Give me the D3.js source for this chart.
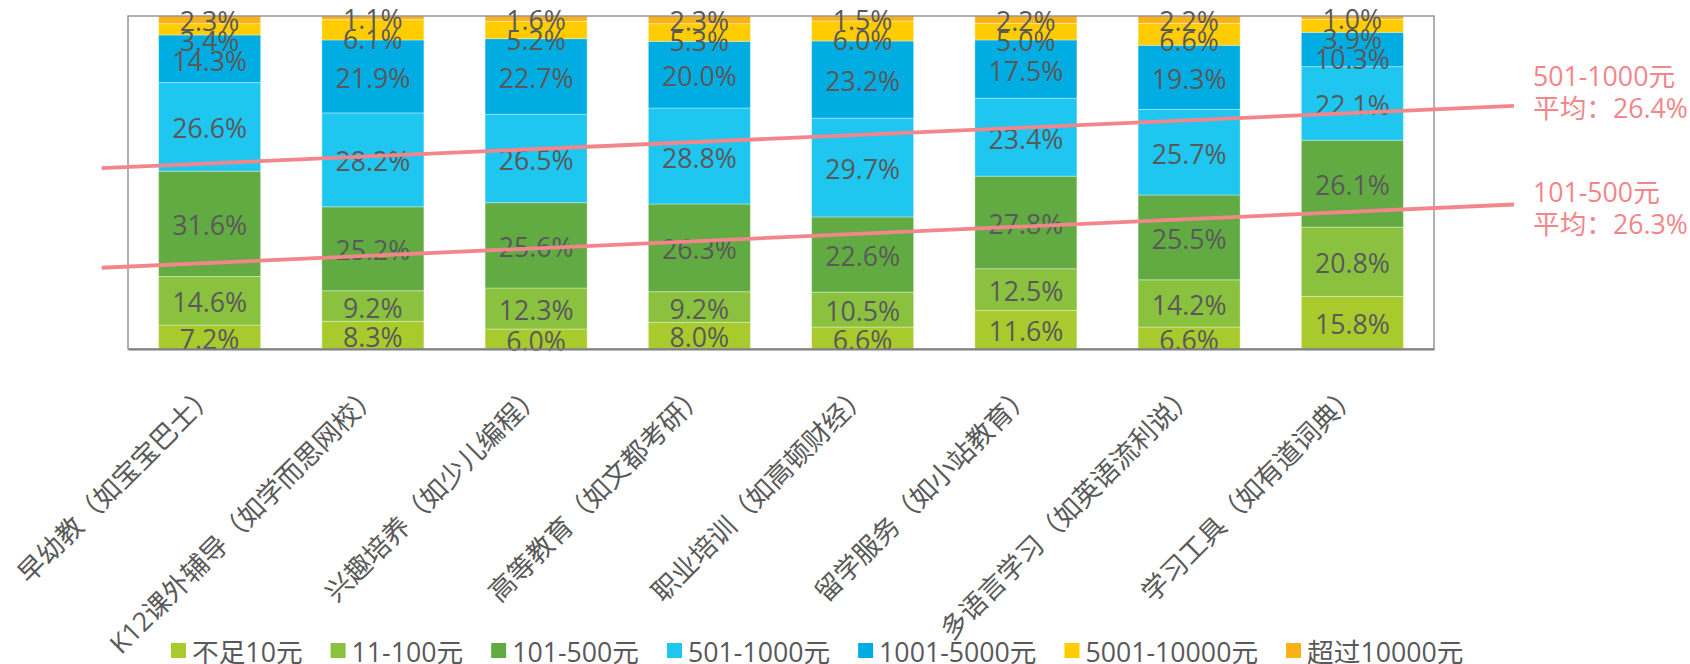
<!DOCTYPE html>
<html>
<head>
<meta charset="utf-8">
<script src="https://cdn.jsdelivr.net/npm/d3@7"></script>
<style>
  html, body { margin: 0; padding: 0; background: #fff; }
  svg { display: block; }
  text { font-family: "Open Sans", "Noto Sans CJK SC", sans-serif; text-spacing-trim: space-all; }
</style>
</head>
<body>
<svg id="chart" width="1690" height="664"></svg>
<script>
// ---------------- data ----------------
const categories = [
  "早幼教（如宝宝巴士）",
  "K12课外辅导（如学而思网校）",
  "兴趣培养（如少儿编程）",
  "高等教育（如文都考研）",
  "职业培训（如高顿财经）",
  "留学服务（如小站教育）",
  "多语言学习（如英语流利说）",
  "学习工具（如有道词典）"
];
const seriesNames = ["不足10元", "11-100元", "101-500元", "501-1000元", "1001-5000元", "5001-10000元", "超过10000元"];
const under10      = [7.2, 8.3, 6.0, 8.0, 6.6, 11.6, 6.6, 15.8];
const from11to100  = [14.6, 9.2, 12.3, 9.2, 10.5, 12.5, 14.2, 20.8];
const from101to500 = [31.6, 25.2, 25.6, 26.3, 22.6, 27.8, 25.5, 26.1];
const from501to1000 = [26.6, 28.2, 26.5, 28.8, 29.7, 23.4, 25.7, 22.1];
const from1001to5000 = [14.3, 21.9, 22.7, 20.0, 23.2, 17.5, 19.3, 10.3];
const from5001to10000 = [3.4, 6.1, 5.2, 5.3, 6.0, 5.0, 6.6, 3.9];
const over10000    = [2.3, 1.1, 1.6, 2.3, 1.5, 2.2, 2.2, 1.0];
const seriesValues = [under10, from11to100, from101to500, from501to1000, from1001to5000, from5001to10000, over10000];
const seriesColors = ["#A8CA2D", "#8AC13F", "#62AB43", "#1FC6F0", "#00ADE2", "#FFCC00", "#FAB118"];

// average annotation lines: category-index span and percentage values at both ends
const avgLineNames  = ["501-1000元", "101-500元"];
const avgLineTexts  = ["平均：26.4%", "平均：26.3%"];
const avgLineFrom   = [-0.161, -0.161];
const avgLineTo     = [8.49, 8.49];
const avgLineStart  = [54.3, 24.4];
const avgLineEnd    = [73.0, 43.4];
const avgLabelLevel = [79.0, 44.2];

// ---------------- layout ----------------
const svg = d3.select("#chart");
const L = 128, R = 1434, T = 16, B = 349;
const FS = 26.7;
const textColor = "#595959";

const table = categories.map((c, i) => {
  const row = { cat: c };
  seriesNames.forEach((s, k) => row[s] = seriesValues[k][i]);
  return row;
});
const stacked = d3.stack().keys(seriesNames).offset(d3.stackOffsetExpand)(table);

const x = d3.scaleBand().domain(categories).range([L, R]).paddingInner(0.375).paddingOuter(0.1875);
const y = d3.scaleLinear().domain([0, 1]).range([B, T]);
const xi = d3.scaleLinear().domain([0, categories.length]).range([L, R]);
const color = d3.scaleOrdinal().domain(seriesNames).range(seriesColors);

// bars
svg.append("g").selectAll("g").data(stacked).join("g")
  .attr("fill", d => color(d.key))
  .selectAll("rect").data(d => d).join("rect")
  .attr("x", d => x(d.data.cat))
  .attr("width", x.bandwidth())
  .attr("y", d => y(d[1]))
  .attr("height", d => y(d[0]) - y(d[1]))
  .attr("stroke", "rgba(255,255,255,0.35)")
  .attr("stroke-width", 1);

// frame
svg.append("rect").attr("x", L).attr("y", T).attr("width", R - L).attr("height", B - T)
  .attr("fill", "none").attr("stroke", "#8f8f8f").attr("stroke-width", 1.4);

// data labels: segment middle, pushed down if colliding with label above
const labelLayer = svg.append("g").attr("fill", textColor).attr("font-size", FS).attr("text-anchor", "middle");
categories.forEach((c, i) => {
  let prev = -Infinity;
  for (let k = stacked.length - 1; k >= 0; k--) {
    const seg = stacked[k][i];
    let cy = (y(seg[0]) + y(seg[1])) / 2 + 2;
    if (cy < prev + 20) cy = prev + 20;
    prev = cy;
    labelLayer.append("text")
      .attr("x", x(c) + x.bandwidth() / 2)
      .attr("y", cy + 0.357 * FS)
      .text(seriesValues[k][i].toFixed(1) + "%");
  }
});

// x axis
const axisG = svg.append("g").attr("transform", `translate(0,${B})`)
  .call(d3.axisBottom(x).tickSize(0).tickPadding(0));
axisG.select(".domain").attr("stroke", "#7f7f7f").attr("stroke-width", 2);
axisG.selectAll("text")
  .attr("font-size", FS)
  .attr("fill", textColor)
  .attr("font-family", "\"Open Sans\", \"Noto Sans CJK SC\", sans-serif")
  .attr("text-anchor", "end")
  .attr("y", 0).attr("dy", 0)
  .attr("transform", "translate(8,47) rotate(-45)");

// average lines
const lineColor = "#F2868A";
avgLineNames.forEach((n, j) => {
  svg.append("line")
    .attr("x1", xi(avgLineFrom[j])).attr("y1", y(avgLineStart[j] / 100))
    .attr("x2", xi(avgLineTo[j])).attr("y2", y(avgLineEnd[j] / 100))
    .attr("stroke", lineColor).attr("stroke-width", 3.8);
  const tx = xi(avgLineTo[j]) + 19;
  const ty = y(avgLabelLevel[j] / 100);
  svg.append("text").attr("x", tx).attr("y", ty).attr("font-size", FS).attr("fill", lineColor).text(n);
  svg.append("text").attr("x", tx).attr("y", ty + 32).attr("font-size", FS).attr("fill", lineColor).text(avgLineTexts[j]);
});

// legend
const legend = svg.append("g").attr("font-size", FS).attr("fill", textColor);
let lx = 171;
seriesNames.forEach((s, k) => {
  legend.append("rect").attr("x", lx).attr("y", 643).attr("width", 15).attr("height", 15).attr("fill", color(s));
  const t = legend.append("text").attr("x", lx + 21).attr("y", 662).text(s);
  lx += 21 + t.node().getComputedTextLength() + 28;
});
</script>
</body>
</html>
